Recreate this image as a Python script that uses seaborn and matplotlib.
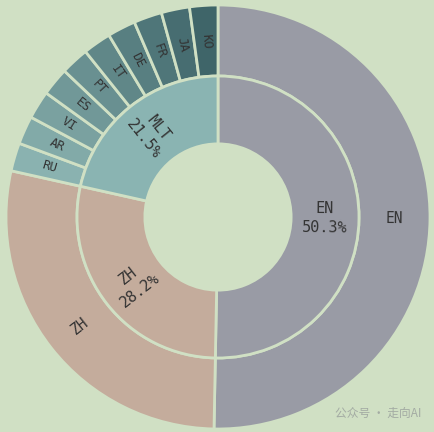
import matplotlib
matplotlib.use("Agg")
import matplotlib.pyplot as plt
import seaborn as sns
import numpy as np

# ---- data ----
inner_labels = ["EN", "ZH", "MLT"]
inner_values = [50.3, 28.2, 21.5]
outer_labels = ["EN", "ZH", "RU", "AR", "VI", "ES", "PT", "IT", "DE", "FR", "JA", "KO"]
outer_values = [50.3, 28.2, 2.15, 2.15, 2.15, 2.15, 2.15, 2.15, 2.15, 2.15, 2.15, 2.15]

BG = "#d0e0c4"
EN_C = "#999ba5"
ZH_C = "#c4ac9c"
MLT_C = "#8ab4b2"
teal = sns.blend_palette(["#8ab2b0", "#3f6569"], 10)

sns.set_style("white")
plt.rcParams["font.family"] = ["DejaVu Sans Mono", "Noto Sans CJK SC"]

fig = plt.figure(figsize=(4.34, 4.32), dpi=100, facecolor=BG)
ax = fig.add_axes([0, 0, 1, 1])
ax.set_facecolor(BG)

R = 212.0
outer_colors = [EN_C, ZH_C] + list(teal)
inner_colors = [EN_C, ZH_C, MLT_C]

wp = dict(edgecolor=BG, linewidth=2)
w_out, _ = ax.pie(outer_values, radius=1.0, startangle=90, counterclock=False,
                  colors=outer_colors, wedgeprops=dict(width=0.335, **wp))
w_in, _ = ax.pie(inner_values, radius=0.665, startangle=90, counterclock=False,
                 colors=inner_colors, wedgeprops=dict(width=0.32, **wp))
ax.set_xlim(-218 / R, 216 / R)
ax.set_ylim(-215 / R, 217 / R)
ax.set_aspect("auto")
ax.axis("off")


def rot_for(a):
    a = (a + 360) % 360
    if 90 < a < 270:
        return a - 180
    return a


def place(wedges, labels, r, texts, sizes):
    for w, lab, t, s in zip(wedges, labels, texts, sizes):
        a = (w.theta1 + w.theta2) / 2.0
        x = r * np.cos(np.radians(a))
        y = r * np.sin(np.radians(a))
        ax.text(x, y, t, ha="center", va="center", rotation=rot_for(a),
                rotation_mode="anchor", fontsize=s, color="#333333",
                linespacing=1.3)


place(w_in, inner_labels, 0.505,
      [f"{l}\n{v:.1f}%" for l, v in zip(inner_labels, inner_values)],
      [11, 11, 11])
place(w_out, outer_labels, 0.83, outer_labels,
      [10.5, 10.5] + [9] * 10)

ax.text(378 / R - 218 / R, 217 / R - 413 / R, "公众号 · 走向AI", ha="center", va="center",
        fontsize=8.5, color="#a3aba3", family=["Noto Sans CJK SC", "DejaVu Sans"])

fig.savefig("out.png", dpi=100, facecolor=BG)
